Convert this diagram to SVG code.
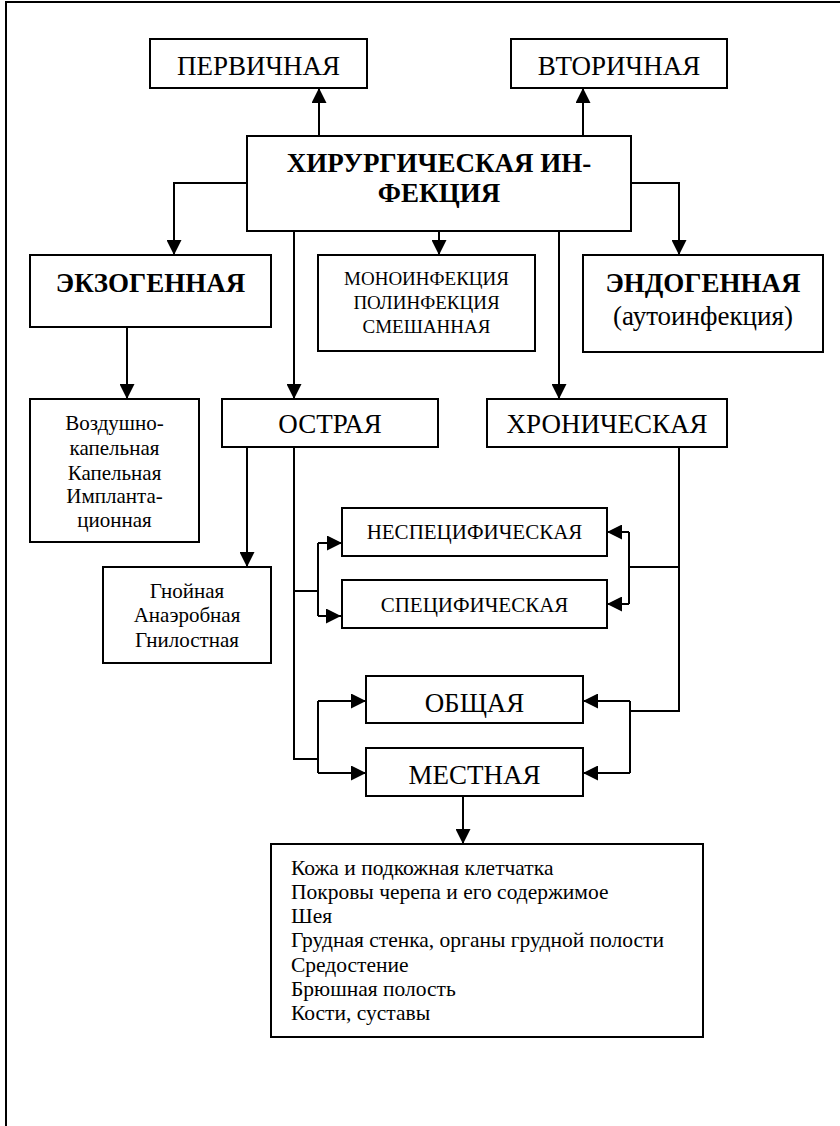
<svg xmlns="http://www.w3.org/2000/svg" width="840" height="1126" viewBox="0 0 840 1126">
<style>
.box{fill:#fff;stroke:#000;stroke-width:2}
.ln{fill:none;stroke:#000;stroke-width:2}
.ar{fill:none;stroke:#000;stroke-width:2;marker-end:url(#ah)}
text{font-family:'Liberation Serif','Times New Roman',serif;fill:#000}
.c{text-anchor:middle}
.big{font-size:27px}
.bold{font-size:27px;font-weight:bold}
.sm{font-size:21px}
.mono{font-size:19px}
.lst{font-size:21.5px}
</style>
<defs>
<marker id="ah" markerUnits="userSpaceOnUse" markerWidth="15" markerHeight="15" refX="15" refY="7.5" orient="auto">
<path d="M0,0 L15,7.5 L0,15 z" fill="#000"/>
</marker>
</defs>
<rect width="840" height="1126" fill="#fff"/>
<path class="ln" d="M6,1130 V2 H845"/>
<g id="connectors">
<path class="ar" d="M319,136 V88"/>
<path class="ar" d="M583,136 V88"/>
<path class="ar" d="M247,183 H174 V255"/>
<path class="ar" d="M631,183 H679 V255"/>
<path class="ar" d="M439,231 V255"/>
<path class="ar" d="M294,231 V399"/>
<path class="ar" d="M559,231 V399"/>
<path class="ar" d="M127,327 V399"/>
<path class="ar" d="M247,447 V567"/>
<path class="ln" d="M294,447 V759 H318"/>
<path class="ln" d="M294,591 H318"/>
<path class="ln" d="M318,543 V616"/>
<path class="ar" d="M318,543 H342"/>
<path class="ar" d="M318,616 H341"/>
<path class="ln" d="M318,701 V773"/>
<path class="ar" d="M318,701 H366"/>
<path class="ar" d="M318,773 H366"/>
<path class="ln" d="M679,447 V711 H630"/>
<path class="ln" d="M630,701 V773"/>
<path class="ar" d="M630,701 H583"/>
<path class="ar" d="M630,773 H583"/>
<path class="ln" d="M679,567 H629"/>
<path class="ln" d="M629,532 V604"/>
<path class="ar" d="M629,532 H607"/>
<path class="ar" d="M629,604 H607"/>
<path class="ar" d="M463,796 V844"/>
</g>
<g id="primary"><rect class="box" x="150" y="39" width="217" height="49"/><text class="c big" x="258.5" y="75">ПЕРВИЧНАЯ</text></g>
<g id="secondary"><rect class="box" x="511" y="39" width="216" height="49"/><text class="c big" x="619" y="75">ВТОРИЧНАЯ</text></g>
<g id="main"><rect class="box" x="247" y="136" width="384" height="95"/><text class="c bold" x="439" y="172">ХИРУРГИЧЕСКАЯ ИН-</text><text class="c bold" x="439" y="202">ФЕКЦИЯ</text></g>
<g id="exo"><rect class="box" x="30" y="255" width="241" height="72"/><text class="c bold" x="150.5" y="292">ЭКЗОГЕННАЯ</text></g>
<g id="mono"><rect class="box" x="318" y="255" width="217" height="96"/><text class="c mono" x="426.5" y="285">МОНОИНФЕКЦИЯ</text><text class="c mono" x="426.5" y="309">ПОЛИНФЕКЦИЯ</text><text class="c mono" x="426.5" y="333">СМЕШАННАЯ</text></g>
<g id="endo"><rect class="box" x="583" y="255" width="240" height="97"/><text class="c bold" x="703" y="292">ЭНДОГЕННАЯ</text><text class="c big" x="703" y="325">(аутоинфекция)</text></g>
<g id="air"><rect class="box" x="30" y="399" width="169" height="143"/><text class="c sm" x="114.5" y="430">Воздушно-</text><text class="c sm" x="114.5" y="455">капельная</text><text class="c sm" x="114.5" y="480">Капельная</text><text class="c sm" x="114.5" y="503">Импланта-</text><text class="c sm" x="114.5" y="527">ционная</text></g>
<g id="acute"><rect class="box" x="222" y="399" width="216" height="48"/><text class="c big" x="330" y="433">ОСТРАЯ</text></g>
<g id="chronic"><rect class="box" x="487" y="399" width="240" height="48"/><text class="c big" x="607" y="433">ХРОНИЧЕСКАЯ</text></g>
<g id="purulent"><rect class="box" x="103" y="567" width="168" height="96"/><text class="c sm" x="187" y="598">Гнойная</text><text class="c sm" x="187" y="622">Анаэробная</text><text class="c sm" x="187" y="647">Гнилостная</text></g>
<g id="nonspecific"><rect class="box" x="342" y="508" width="265" height="48"/><text class="c sm" x="474.5" y="539">НЕСПЕЦИФИЧЕСКАЯ</text></g>
<g id="specific"><rect class="box" x="342" y="580" width="265" height="48"/><text class="c sm" x="474.5" y="612">СПЕЦИФИЧЕСКАЯ</text></g>
<g id="general"><rect class="box" x="366" y="676" width="217" height="47"/><text class="c big" x="474.5" y="712">ОБЩАЯ</text></g>
<g id="local"><rect class="box" x="366" y="748" width="217" height="48"/><text class="c big" x="474.5" y="784">МЕСТНАЯ</text></g>
<g id="sites"><rect class="box" x="271" y="844" width="432" height="193"/>
<text class="lst" x="291" y="875">Кожа и подкожная клетчатка</text>
<text class="lst" x="291" y="899">Покровы черепа и его содержимое</text>
<text class="lst" x="291" y="923">Шея</text>
<text class="lst" x="291" y="947">Грудная стенка, органы грудной полости</text>
<text class="lst" x="291" y="972">Средостение</text>
<text class="lst" x="291" y="996">Брюшная полость</text>
<text class="lst" x="291" y="1020">Кости, суставы</text>
</g>
</svg>
